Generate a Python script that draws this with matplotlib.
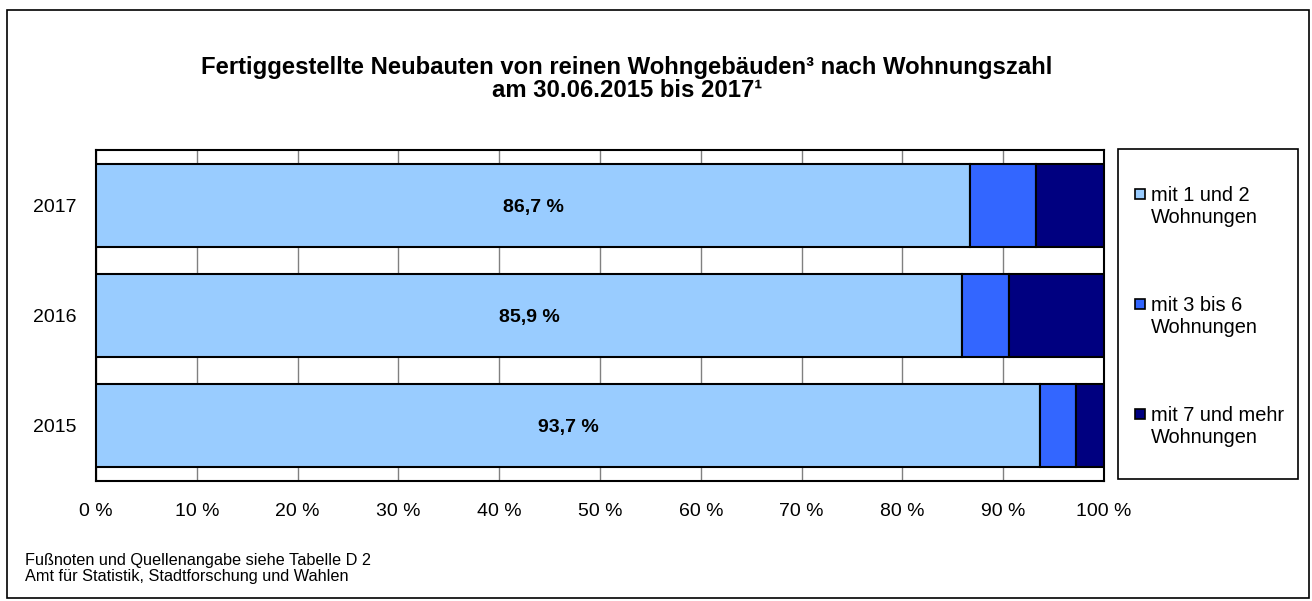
import numpy as np
import matplotlib
matplotlib.use("Agg")
import matplotlib.pyplot as plt
from matplotlib.patches import Rectangle

plt.rcParams['font.family'] = ['Liberation Sans', 'DejaVu Sans']

years = ["2015", "2016", "2017"]
series_names = [["mit 1 und 2", "Wohnungen"],
                ["mit 3 bis 6", "Wohnungen"],
                ["mit 7 und mehr", "Wohnungen"]]
share_1_2 = [93.7, 85.9, 86.7]
share_3_6 = [3.5, 4.7, 6.6]
share_7_plus = [2.8, 9.4, 6.7]
colors = ["#99CCFF", "#3366FF", "#000080"]

fig = plt.figure(figsize=(13.12, 6.01), dpi=100)
W, H = 1312, 601

def fx(px):
    return px / W

def fy(py):
    return 1 - py / H

# outer frame
fig.patches.append(Rectangle((fx(7), fy(598)), fx(1309) - fx(7), fy(10) - fy(598),
                             transform=fig.transFigure, fill=False,
                             edgecolor="black", linewidth=1.2))

ax = fig.add_axes([fx(96), fy(481), fx(1104) - fx(96), fy(150) - fy(481)])

y = np.arange(len(years))
left = np.zeros(len(years))
for vals, col in zip([share_1_2, share_3_6, share_7_plus], colors):
    ax.barh(y, vals, left=left, height=0.75, color=col,
            edgecolor="black", linewidth=1.5, zorder=3)
    left += np.array(vals)

for yi, v in zip(y, share_1_2):
    ax.text(v / 2, yi, f"{v:.1f} %".replace(".", ","), ha="center", va="center_baseline",
            fontsize=14, fontweight="bold", zorder=4)

ax.set_xlim(0, 100)
ax.set_ylim(-0.5, len(years) - 0.5)
ax.set_xticks(np.arange(0, 101, 10))
ax.set_xticklabels([f"{t} %" for t in range(0, 101, 10)], fontsize=14)
ax.set_yticks(y)
ax.set_yticklabels(years, fontsize=14)
ax.tick_params(axis="x", length=0, pad=16)
ax.tick_params(axis="y", length=0, pad=14)
ax.xaxis.grid(True, color="#808080", linewidth=1, zorder=0)
ax.set_axisbelow(True)
for s in ax.spines.values():
    s.set_linewidth(1.5)

# title
fig.text(fx(627), fy(74), "Fertiggestellte Neubauten von reinen Wohngebäuden³ nach Wohnungszahl",
         ha="center", va="baseline", fontsize=17.2, fontweight="bold")
fig.text(fx(627), fy(97), "am 30.06.2015 bis 2017¹",
         ha="center", va="baseline", fontsize=17.2, fontweight="bold")

# legend
fig.patches.append(Rectangle((fx(1118), fy(479)), fx(1298) - fx(1118), fy(149) - fy(479),
                             transform=fig.transFigure, fill=False,
                             edgecolor="black", linewidth=1.2))
leg_rows = [201, 311, 421]
for row, lines, col in zip(leg_rows, series_names, colors):
    fig.patches.append(Rectangle((fx(1135), fy(row - 2)), fx(10), 10 / H,
                                 transform=fig.transFigure, facecolor=col,
                                 edgecolor="black", linewidth=1.2))
    for k, line in enumerate(lines):
        fig.text(fx(1151), fy(row + 22 * k), line, ha="left", va="baseline",
                 fontsize=14.4)

# footnotes
fig.text(fx(25), fy(565), "Fußnoten und Quellenangabe siehe Tabelle D 2",
         ha="left", va="baseline", fontsize=11.7)
fig.text(fx(25), fy(581), "Amt für Statistik, Stadtforschung und Wahlen",
         ha="left", va="baseline", fontsize=11.7)

fig.savefig("out.png", dpi=100)
